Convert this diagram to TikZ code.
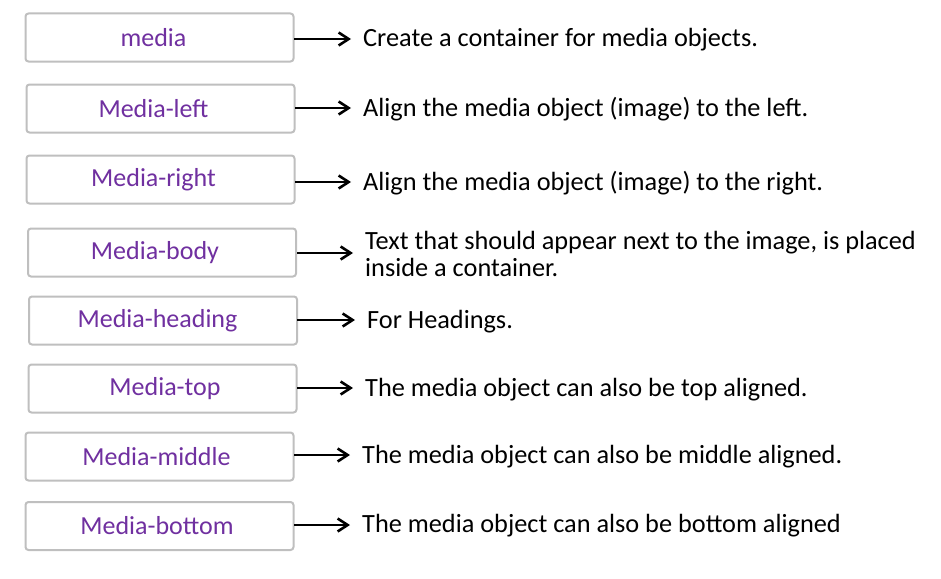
\documentclass[tikz,border=0pt]{standalone}
\usepackage{fontspec}
\setmainfont{Carlito}
\usetikzlibrary{arrows.meta}
\definecolor{lbl}{HTML}{7030A0}
\definecolor{bord}{HTML}{BFBFBF}
\tikzset{
  box/.style={draw=bord, line width=2pt, rounded corners=3pt, fill=white, minimum width=268pt, minimum height=48pt, text=lbl, font=\fontsize{26}{30}\selectfont, inner sep=0pt},
  desc/.style={anchor=west, font=\fontsize{26.3}{27}\selectfont, inner sep=0pt, align=left},
  arr/.style={line width=2.8pt, -{Straight Barb[length=10pt,width=13pt,line width=2.6pt]}}
}
\begin{document}
\begin{tikzpicture}[x=1pt,y=-1pt]
\useasboundingbox (0,0) rectangle (941,578);
\node[box] (b1) at (159.5,37.5) {\hspace*{-12pt}media};
\node[box] (b2) at (160.5,108.5) {\hspace*{-14pt}Media-left};
\node[box] (b3) at (160.5,179.5) {\hspace*{-14pt}Media-right};
\node[box] (b4) at (162,252.5) {\hspace*{-14pt}Media-body};
\node[box] (b5) at (163,320.5) {\hspace*{-11pt}Media-heading};
\node[box] (b6) at (162.5,388.5) {\hspace*{5pt}Media-top};
\node[box] (b7) at (159.5,456.5) {\hspace*{-6pt}Media-middle};
\node[box] (b8) at (159.5,526) {\hspace*{-5pt}Media-bottom};
\node[desc] (t1) at (363,40) {Create a container for media objects.};
\node[desc] (t2) at (363,109) {Align the media object (image) to the left.};
\node[desc] (t3) at (363,183) {Align the media object (image) to the right.};
\node[desc] (t4) at (365,254) {Text that should appear next to the image, is placed\\inside a container.};
\node[desc] (t5) at (367,322) {For Headings.};
\node[desc] (t6) at (365,390) {The media object can also be top aligned.};
\node[desc] (t7) at (362,457) {The media object can also be middle aligned.};
\node[desc] (t8) at (362,526) {The media object can also be bottom aligned};
\coordinate (a1) at (294,39); \coordinate (a2) at (295,108); \coordinate (a3) at (295,182);
\coordinate (a4) at (297,253); \coordinate (a5) at (297,320); \coordinate (a6) at (297,388);
\coordinate (a7) at (294,455); \coordinate (a8) at (294,525);
\draw[arr] (a1) -- (351,39);
\draw[arr] (a2) -- (351,108);
\draw[arr] (a3) -- (351,182);
\draw[arr] (a4) -- (353,253);
\draw[arr] (a5) -- (355,320);
\draw[arr] (a6) -- (353,388);
\draw[arr] (a7) -- (350,455);
\draw[arr] (a8) -- (350,525);
\end{tikzpicture}
\end{document}
